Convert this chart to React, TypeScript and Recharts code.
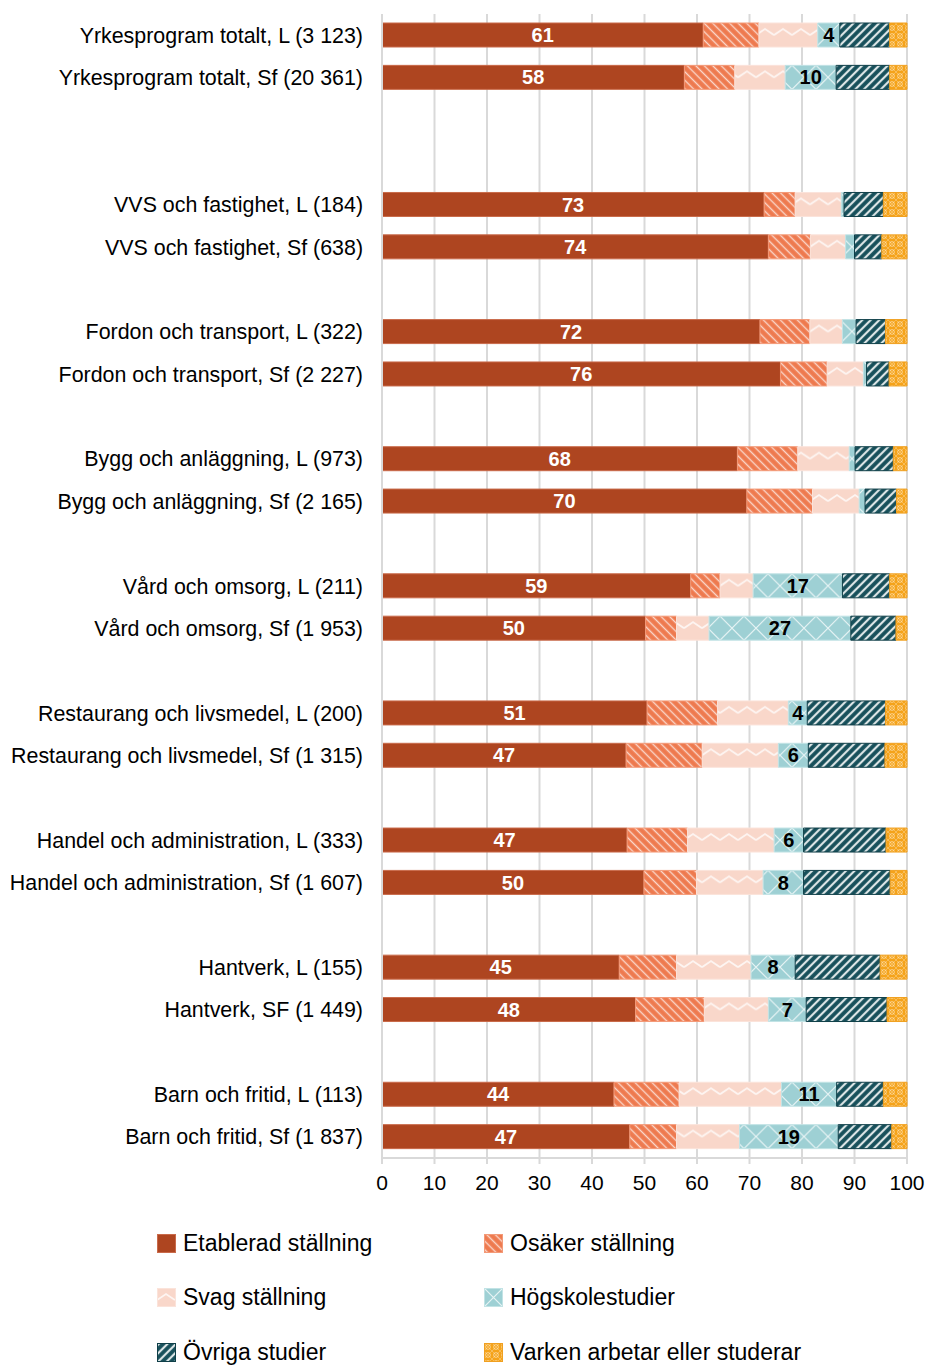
import React from "react";
import { BarChart, Bar, XAxis, YAxis, CartesianGrid, LabelList } from "recharts";

// rows of the chart, "" = empty spacer row
const categories = [
  "Yrkesprogram totalt, L (3 123)",
  "Yrkesprogram totalt, Sf (20 361)",
  "",
  "",
  "VVS och fastighet, L (184)",
  "VVS och fastighet, Sf (638)",
  "",
  "Fordon och transport, L (322)",
  "Fordon och transport, Sf (2 227)",
  "",
  "Bygg och anläggning, L (973)",
  "Bygg och anläggning, Sf (2 165)",
  "",
  "Vård och omsorg, L (211)",
  "Vård och omsorg, Sf (1 953)",
  "",
  "Restaurang och livsmedel, L (200)",
  "Restaurang och livsmedel, Sf (1 315)",
  "",
  "Handel och administration, L (333)",
  "Handel och administration, Sf (1 607)",
  "",
  "Hantverk, L (155)",
  "Hantverk, SF (1 449)",
  "",
  "Barn och fritid, L (113)",
  "Barn och fritid, Sf (1 837)",
];

const etablerad = [61.2, 57.6, null, null, 72.8, 73.6, null, 72, 75.9, null, 67.7, 69.5, null, 58.8, 50.2, null, 50.5, 46.5, null, 46.7, 49.9, null, 45.2, 48.3, null, 44.2, 47.2];
const osaker = [10.6, 9.6, null, null, 5.9, 8, null, 9.5, 8.9, null, 11.5, 12.5, null, 5.6, 5.9, null, 13.4, 14.5, null, 11.5, 10, null, 10.9, 13.1, null, 12.4, 8.9];
const svag = [11.2, 9.6, null, null, 8.8, 6.7, null, 6.2, 6.9, null, 9.8, 8.9, null, 6.3, 6.2, null, 13.5, 14.5, null, 16.5, 12.7, null, 14.2, 12.2, null, 19.5, 12];
const hogskola = [4.2, 9.7, null, null, 0.5, 1.7, null, 2.6, 0.6, null, 1.1, 1.1, null, 17, 27, null, 3.6, 5.7, null, 5.6, 7.7, null, 8.4, 7.2, null, 10.5, 18.8];
const ovriga = [9.5, 10.2, null, null, 7.5, 5.2, null, 5.6, 4.3, null, 7.3, 6, null, 9, 8.6, null, 14.9, 14.6, null, 15.7, 16.5, null, 16.2, 15.4, null, 8.9, 10.2];
const varken = [3.3, 3.3, null, null, 4.5, 4.8, null, 4.1, 3.4, null, 2.6, 2, null, 3.3, 2.1, null, 4.1, 4.2, null, 4, 3.2, null, 5.1, 3.8, null, 4.5, 2.9];

const xTicks = [0, 10, 20, 30, 40, 50, 60, 70, 80, 90, 100];

const seriesNames = [
  "Etablerad ställning",
  "Osäker ställning",
  "Svag ställning",
  "Högskolestudier",
  "Övriga studier",
  "Varken arbetar eller studerar",
];

const data = categories.map((c, i) => ({
  key: "r" + i,
  etablerad: etablerad[i],
  osaker: osaker[i],
  svag: svag[i],
  hogskola: hogskola[i],
  ovriga: ovriga[i],
  varken: varken[i],
}));

const W = 927;
const H = 1200;
const TOP = 14;
const XAXIS_H = 42;
const BAR = 24;
const STEP = (H - TOP - XAXIS_H) / categories.length;
const BAR_Y0 = TOP + Math.floor((STEP - BAR) / 2);
const FONT = "'Liberation Sans', Arial, sans-serif";
const GRID = "#d9d9d9";

// pattern fills, tileH/y0 keep zigzag and X marks lined up with each bar
function Patterns({ p, y0, tileH, h, zz }: { p: string; y0: number; tileH: number; h: number; zz: number }) {
  return (
    <defs>
      <pattern id={p + "osaker"} width={6} height={6} patternUnits="userSpaceOnUse" patternTransform="rotate(-45)">
        <rect width={6} height={6} fill="#ee7a4f" />
        <line x1={1.5} y1={0} x2={1.5} y2={6} stroke="#fff" strokeWidth={1.4} strokeOpacity={0.7} />
      </pattern>
      <pattern id={p + "svag"} x={0} y={y0} width={18} height={tileH} patternUnits="userSpaceOnUse">
        <rect width={18} height={tileH} fill="#f9d7ca" />
        <path d={`M0,${zz + 3} L9,${zz - 3} L18,${zz + 3}`} fill="none" stroke="#fff" strokeWidth={1.8} strokeOpacity={0.75} />
      </pattern>
      <pattern id={p + "hog"} x={0} y={y0} width={h} height={tileH} patternUnits="userSpaceOnUse">
        <rect width={h} height={tileH} fill="#9ed0d4" />
        <path d={`M0,0 L${h},${h} M${h},0 L0,${h}`} stroke="#fff" strokeWidth={1.2} strokeOpacity={0.75} />
      </pattern>
      <pattern id={p + "ovriga"} width={6} height={6} patternUnits="userSpaceOnUse" patternTransform="rotate(45)">
        <rect width={6} height={6} fill="#164f5a" />
        <line x1={2} y1={0} x2={2} y2={6} stroke="#fff" strokeWidth={2.2} strokeOpacity={0.85} />
      </pattern>
      <pattern id={p + "varken"} width={8} height={8} patternUnits="userSpaceOnUse">
        <rect width={8} height={8} fill="#f5a31a" />
        <circle cx={4} cy={4} r={2.4} fill="none" stroke="#fff" strokeWidth={0.8} strokeOpacity={0.6} />
        <path d="M0,0 L8,8 M8,0 L0,8" stroke="#fff" strokeWidth={0.6} strokeOpacity={0.45} />
      </pattern>
    </defs>
  );
}

const legendFills = [
  { fill: "#ae4520", stroke: "#c96a4a" },
  { fill: "url(#lgosaker)", stroke: "#f39a78" },
  { fill: "url(#lgsvag)", stroke: "#fbe3da" },
  { fill: "url(#lghog)", stroke: "#c2e3e5" },
  { fill: "url(#lgovriga)", stroke: "#0f3f48" },
  { fill: "url(#lgvarken)", stroke: "#f0a020" },
];

const roundLabel = (v: unknown) => (typeof v === "number" ? Math.round(v) : "");
const hogLabel = (v: unknown) => (typeof v === "number" && v >= 3.5 ? Math.round(v) : "");

export default function App() {
  const labelStyle = { fontSize: 20, fontWeight: 700, fontFamily: FONT };
  return (
    <div style={{ position: "absolute", left: 0, top: 0, width: W, height: 1365, background: "#fff", fontFamily: FONT }}>
      <BarChart
        width={W}
        height={H}
        data={data}
        layout="vertical"
        barSize={BAR}
        margin={{ top: TOP, right: 20, left: 0, bottom: 0 }}
      >
        <Patterns p="c" y0={BAR_Y0} tileH={STEP} h={BAR} zz={9} />
        <CartesianGrid horizontal={false} stroke={GRID} strokeWidth={2} />
        <XAxis
          type="number"
          domain={[0, 100]}
          ticks={xTicks}
          height={XAXIS_H}
          axisLine={{ stroke: GRID, strokeWidth: 2 }}
          tickLine={{ stroke: GRID, strokeWidth: 2 }}
          tickSize={6}
          tickMargin={11}
          tick={{ fill: "#000", fontSize: 21, fontFamily: FONT }}
        />
        <XAxis
          xAxisId="top"
          orientation="top"
          type="number"
          domain={[0, 100]}
          height={0}
          tick={false}
          tickLine={false}
          axisLine={{ stroke: GRID, strokeWidth: 2 }}
        />
        <YAxis
          type="category"
          dataKey="key"
          width={382}
          axisLine={{ stroke: GRID, strokeWidth: 2 }}
          tickLine={false}
          tickSize={0}
          tickMargin={19}
          interval={0}
          tickFormatter={(_v: string, i: number) => categories[i]}
          tick={{ fill: "#000", fontSize: 21.4, fontFamily: FONT }}
        />
        <Bar dataKey="etablerad" stackId="a" fill="#ae4520" stroke="#c96a4a" strokeWidth={1} isAnimationActive={false}>
          <LabelList dataKey="etablerad" position="center" fill="#fff" formatter={roundLabel} style={labelStyle} />
        </Bar>
        <Bar dataKey="osaker" stackId="a" fill="url(#cosaker)" stroke="#f39a78" strokeWidth={1} isAnimationActive={false} />
        <Bar dataKey="svag" stackId="a" fill="url(#csvag)" stroke="#fbe3da" strokeWidth={1} isAnimationActive={false} />
        <Bar dataKey="hogskola" stackId="a" fill="url(#chog)" stroke="#c2e3e5" strokeWidth={1} isAnimationActive={false}>
          <LabelList dataKey="hogskola" position="center" fill="#000" formatter={hogLabel} style={labelStyle} />
        </Bar>
        <Bar dataKey="ovriga" stackId="a" fill="url(#covriga)" stroke="#0f3f48" strokeWidth={1} isAnimationActive={false} />
        <Bar dataKey="varken" stackId="a" fill="url(#cvarken)" stroke="#f0a020" strokeWidth={1} isAnimationActive={false} />
      </BarChart>

      <svg width={0} height={0} style={{ position: "absolute" }}>
        <Patterns p="lg" y0={0} tileH={19} h={19} zz={9} />
      </svg>
      {seriesNames.map((name, i) => {
        const col = i % 2;
        const row = Math.floor(i / 2);
        return (
          <div
            key={name}
            style={{
              position: "absolute",
              left: col === 0 ? 157 : 484,
              top: 1230 + row * 54.5,
              display: "flex",
              alignItems: "center",
              height: 26,
              fontSize: 23,
              color: "#000",
              whiteSpace: "nowrap",
            }}
          >
            <svg width={19} height={19} style={{ marginRight: 7 }}>
              <rect x={0.5} y={0.5} width={18} height={18} fill={legendFills[i].fill} stroke={legendFills[i].stroke} />
            </svg>
            <span>{name}</span>
          </div>
        );
      })}
    </div>
  );
}
